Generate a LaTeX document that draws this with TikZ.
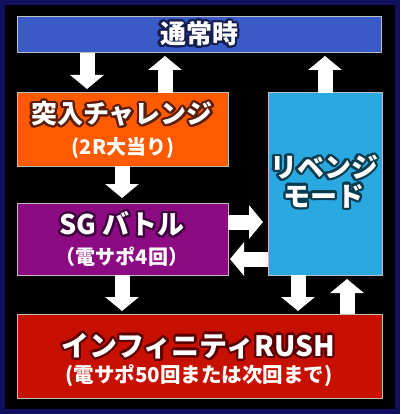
\documentclass[tikz,border=0pt]{standalone}
\usepackage{fontspec}
\setmainfont{Noto Sans CJK JP}
\usepackage{contour}
\contourlength{2.2pt}
\contournumber{24}
\usetikzlibrary{arrows.meta,calc}
\definecolor{navy}{RGB}{16,16,96}
\definecolor{cTop}{RGB}{58,90,200}
\definecolor{cOrange}{RGB}{255,90,0}
\definecolor{cPurple}{RGB}{140,10,130}
\definecolor{cRev}{RGB}{42,168,224}
\definecolor{cRed}{RGB}{200,16,0}
\definecolor{boxline}{RGB}{190,190,190}
\definecolor{topdark}{RGB}{20,30,80}
\definecolor{ordark}{RGB}{90,30,10}
\definecolor{purdark}{RGB}{60,0,60}
\definecolor{revdark}{RGB}{10,60,80}
\definecolor{reddark}{RGB}{90,0,0}
\begin{document}
\begin{tikzpicture}[x=1pt,y=-1pt,
  box/.style={draw=boxline, line width=1pt, anchor=north west, inner sep=0pt, outer sep=0pt},
  blk/.style={draw=white, line width=15pt, -{Triangle[width=33pt,length=14pt]}},
  title/.style={text=white, inner sep=0pt},
  sub/.style={text=white, inner sep=0pt, font=\bfseries\fontsize{20}{20}\selectfont}]
\useasboundingbox (0,0) rectangle (400,414);
\fill[navy] (0,0) rectangle (400,414);
\fill[black] (5,5) rectangle (395,409);
% boxes
\node[box, fill=cTop, minimum width=364pt, minimum height=36pt] (top) at (17,17) {};
\node[box, fill=cOrange, minimum width=211pt, minimum height=73pt] (orange) at (17,93) {};
\node[box, fill=cPurple, minimum width=211pt, minimum height=72pt] (purple) at (17,203) {};
\node[box, fill=cRev, minimum width=114pt, minimum height=182pt] (rev) at (268,93) {};
\node[box, fill=cRed, minimum width=365pt, minimum height=84pt] (red) at (17,314) {};
% texts
\node[title, font=\bfseries\fontsize{26}{26}\selectfont] (ttop) at (199,35) {\contour{topdark}{通常時}};
\node[title, font=\bfseries\fontsize{26}{26}\selectfont] (tor) at (122,115) {\contour{ordark}{突入チャレンジ}};
\node[sub] (sor) at (123,148) {(2R大当り)};
\node[title, font=\bfseries\fontsize{27}{27}\selectfont] (tpu) at (122,225) {\contour{purdark}{SG バトル}};
\node[sub] (spu) at (122,257) {（電サポ4回）};
\node[title, font=\bfseries\fontsize{27}{27}\selectfont] (trev1) at (324,168) {\contour{revdark}{リベンジ}};
\node[title, font=\bfseries\fontsize{27}{27}\selectfont] (trev2) at (324,197) {\contour{revdark}{モード}};
\node[title, font=\bfseries\fontsize{28}{28}\selectfont] (tred) at (198,347) {\contour{reddark}{インフィニティRUSH}};
\node[sub, font=\bfseries\fontsize{20.5}{20.5}\selectfont] (sred) at (199,376) {(電サポ50回または次回まで)};
% arrows
\draw[blk] ($(top.south west)+(70,0)$) -- ($(orange.north west)+(70,-4)$);
\draw[blk] ($(orange.north west)+(148,0)$) -- ($(top.south west)+(148,3)$);
\draw[blk] (rev.north) -- ($(rev.north |- top.south)+(0,3)$);
\draw[blk] ($(orange.south west)+(105,0)$) -- ($(purple.north west)+(105,-5)$);
\draw[blk] ($(purple.north east)+(0,19)$) -- ($(rev.north west)+(-5,129)$);
\draw[blk] ($(rev.north west)+(0,166)$) -- ($(purple.north east)+(2,56)$);
\draw[blk] ($(purple.south west)+(105,0)$) -- ($(red.north west)+(105,-3)$);
\draw[blk] ($(rev.south west)+(30,0)$) -- ($(red.north west)+(281,-3)$);
\draw[blk] ($(red.north west)+(330,0)$) -- ($(rev.south west)+(79,4)$);
\end{tikzpicture}
\end{document}
